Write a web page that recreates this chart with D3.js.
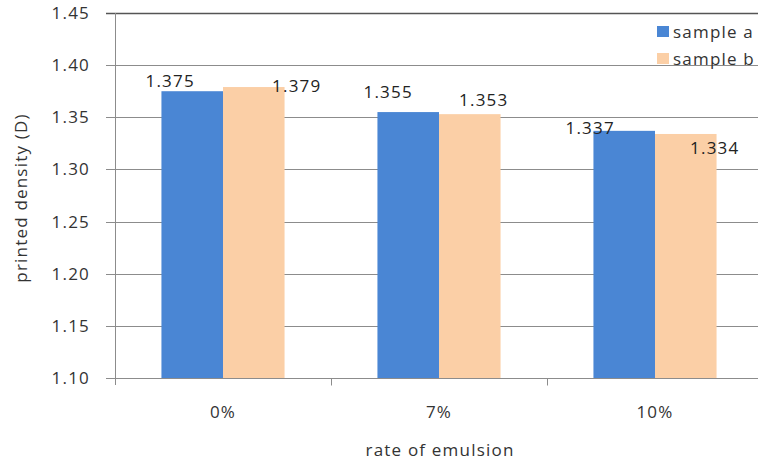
<!DOCTYPE html>
<html>
<head>
<meta charset="utf-8">
<script src="https://cdn.jsdelivr.net/npm/d3@7"></script>
<style>
  body { margin: 0; background: #fff; }
  svg { display: block; font-family: "Open Sans", sans-serif; }
  text { letter-spacing: 1.2px; }
</style>
</head>
<body>
<div id="chart"></div>
<script>
let width = 758, height = 463;
let margin = ({top: 13, right: -5, bottom: 85, left: 115});

// data
let categories = ["0%", "7%", "10%"];
let seriesNames = ["sample a", "sample b"];
let sampleA = [1.375, 1.355, 1.337];
let sampleB = [1.379, 1.353, 1.334];
let yTicks = [1.10, 1.15, 1.20, 1.25, 1.30, 1.35, 1.40, 1.45];
let colors = ["#4a86d4", "#fbcfa6"];

// Excel put the value labels a bit off the bars, nudges per label [dx, dy]
let labelNudge = [
  [[-22, -10], [-20, -20], [-34, -3]],
  [[43, -1], [14, -14], [29, 14]]
];

let data = categories.map((c, i) => ({category: c, values: [sampleA[i], sampleB[i]]}));

let x = d3.scaleBand()
    .domain(categories)
    .range([margin.left, width - margin.right])
    .padding(0);
let x1 = d3.scaleBand()
    .domain(seriesNames)
    .range([x.bandwidth() * 0.215, x.bandwidth() * 0.785]);
let y = d3.scaleLinear()
    .domain([1.10, 1.45])
    .range([height - margin.bottom, margin.top]);

let svg = d3.select("#chart").append("svg")
    .attr("width", width)
    .attr("height", height)
    .attr("viewBox", [0, 0, width, height]);

// gridlines + y ticks
svg.append("g")
    .selectAll("line")
    .data(yTicks.slice(1))
    .join("line")
    .attr("x1", margin.left - 9)
    .attr("x2", width)
    .attr("y1", d => Math.round(y(d)) + 0.5)
    .attr("y2", d => Math.round(y(d)) + 0.5)
    .attr("stroke", d => d === 1.45 ? "#555" : "#8c8c8c")
    .attr("stroke-width", d => d === 1.45 ? 1.5 : 1);

// bars
svg.append("g")
    .selectAll("g")
    .data(data)
    .join("g")
    .attr("transform", d => `translate(${x(d.category)},0)`)
    .selectAll("rect")
    .data(d => d.values.map((v, j) => ({key: seriesNames[j], value: v, j})))
    .join("rect")
    .attr("x", d => x1(d.key))
    .attr("width", x1.bandwidth())
    .attr("y", d => y(d.value))
    .attr("height", d => y(1.10) - y(d.value))
    .attr("fill", d => colors[d.j]);

// y axis line
svg.append("line")
    .attr("x1", margin.left + 0.5).attr("x2", margin.left + 0.5)
    .attr("y1", margin.top).attr("y2", y(1.10) + 7)
    .attr("stroke", "#8c8c8c");

// x axis line + ticks at band edges
let xAxisY = Math.round(y(1.10)) + 0.5;
svg.append("line")
    .attr("x1", margin.left - 9).attr("x2", width)
    .attr("y1", xAxisY).attr("y2", xAxisY)
    .attr("stroke", "#8c8c8c");
svg.append("g")
    .selectAll("line")
    .data(categories.slice(1))
    .join("line")
    .attr("x1", d => Math.round(x(d)) + 0.5)
    .attr("x2", d => Math.round(x(d)) + 0.5)
    .attr("y1", xAxisY)
    .attr("y2", xAxisY + 7)
    .attr("stroke", "#8c8c8c");

// y tick labels
svg.append("g")
    .attr("font-size", 17)
    .attr("fill", "#333")
    .attr("text-anchor", "end")
    .selectAll("text")
    .data(yTicks)
    .join("text")
    .attr("x", 90)
    .attr("y", d => y(d))
    .attr("dy", "0.35em")
    .text(d => d.toFixed(2));

// category labels
svg.append("g")
    .attr("font-size", 17)
    .attr("fill", "#333")
    .attr("text-anchor", "middle")
    .selectAll("text")
    .data(categories)
    .join("text")
    .attr("x", d => x(d) + x.bandwidth() / 2)
    .attr("y", 412)
    .attr("dy", "0.35em")
    .text(d => d);

// value labels
svg.append("g")
    .attr("font-size", 17)
    .attr("fill", "#222")
    .attr("text-anchor", "middle")
    .selectAll("text")
    .data(data.flatMap((d, i) => d.values.map((v, j) => ({c: d.category, key: seriesNames[j], v, i, j}))))
    .join("text")
    .attr("x", d => x(d.c) + x1(d.key) + x1.bandwidth() / 2 + labelNudge[d.j][d.i][0])
    .attr("y", d => y(d.v) + labelNudge[d.j][d.i][1])
    .attr("dy", "0.35em")
    .text(d => d.v.toFixed(3));

// axis titles
svg.append("text")
    .attr("x", 440)
    .attr("y", 450)
    .attr("dy", "0.35em")
    .attr("text-anchor", "middle")
    .attr("font-size", 17)
    .attr("fill", "#333")
    .text("rate of emulsion");
svg.append("text")
    .attr("transform", "translate(21,198) rotate(-90)")
    .attr("dy", "0.35em")
    .attr("text-anchor", "middle")
    .attr("font-size", 17)
    .attr("fill", "#333")
    .text("printed density (D)");

// legend
let legend = svg.append("g")
    .attr("font-size", 17)
    .attr("fill", "#333")
    .selectAll("g")
    .data(seriesNames)
    .join("g")
    .attr("transform", (d, i) => `translate(657,${32 + i * 27})`);
legend.append("rect")
    .attr("x", 0).attr("y", -6)
    .attr("width", 12).attr("height", 11)
    .attr("fill", (d, i) => colors[i]);
legend.append("text")
    .attr("x", 16)
    .attr("dy", "0.35em")
    .text(d => d);
</script>
</body>
</html>
